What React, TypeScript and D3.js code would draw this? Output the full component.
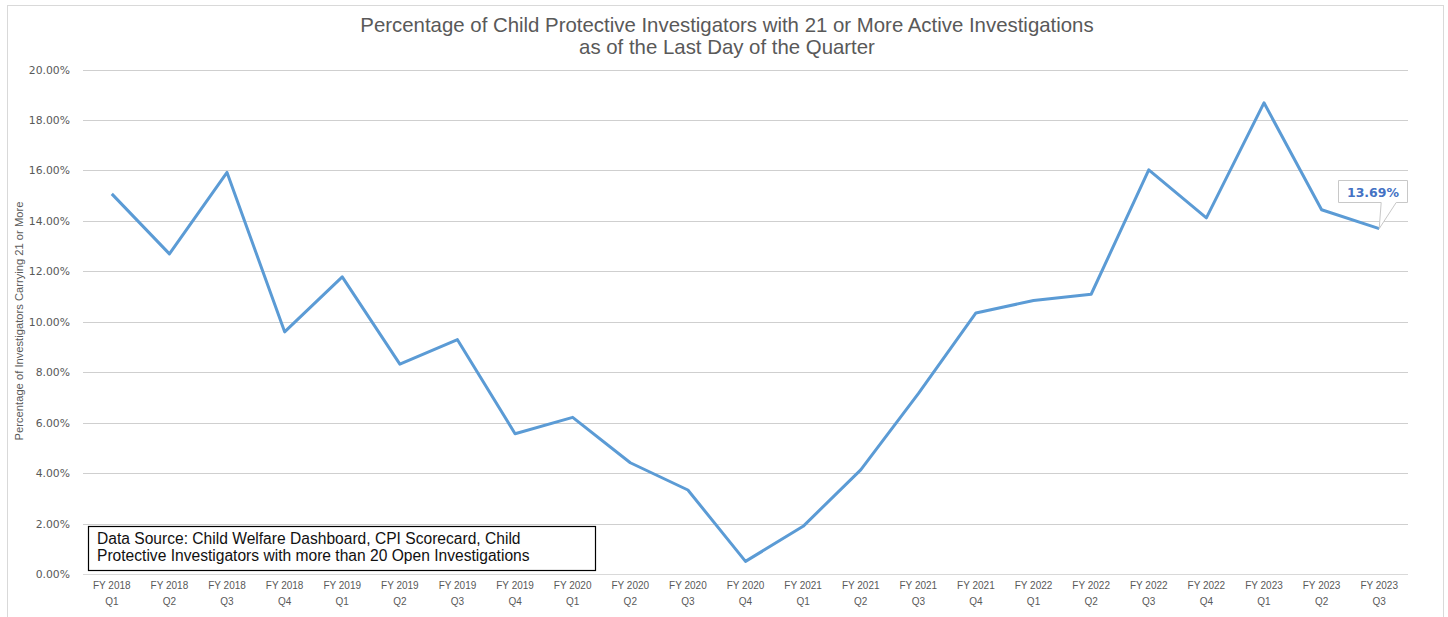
import React, { useEffect, useRef } from "react";
import { select, scaleBand, scaleLinear, line } from "d3";

const fiscalYears = [
  "FY 2018", "FY 2018", "FY 2018", "FY 2018",
  "FY 2019", "FY 2019", "FY 2019", "FY 2019",
  "FY 2020", "FY 2020", "FY 2020", "FY 2020",
  "FY 2021", "FY 2021", "FY 2021", "FY 2021",
  "FY 2022", "FY 2022", "FY 2022", "FY 2022",
  "FY 2023", "FY 2023", "FY 2023"
];
const quarters = [
  "Q1", "Q2", "Q3", "Q4", "Q1", "Q2", "Q3", "Q4",
  "Q1", "Q2", "Q3", "Q4", "Q1", "Q2", "Q3", "Q4",
  "Q1", "Q2", "Q3", "Q4", "Q1", "Q2", "Q3"
];
// percent of investigators with 21+ active investigations
const pctValues = [
  15.07, 12.69, 15.92, 9.6, 11.78, 8.32, 9.29, 5.56,
  6.21, 4.41, 3.33, 0.5, 1.89, 4.13, 7.15, 10.35,
  10.84, 11.09, 16.02, 14.12, 18.68, 14.44, 13.69
];
const yTicks = [0, 2, 4, 6, 8, 10, 12, 14, 16, 18, 20];

const titleLines = [
  "Percentage of Child  Protective Investigators with 21 or More Active Investigations",
  "as of the Last Day of the Quarter"
];
const sourceLines = [
  "Data Source: Child Welfare Dashboard, CPI Scorecard, Child",
  "Protective Investigators with more than 20 Open Investigations"
];

const W = 1448;
const H = 617;
const sans = "'Liberation Sans', Arial, sans-serif";

export default function App() {
  const svgRef = useRef<SVGSVGElement>(null);

  useEffect(() => {
    if (!svgRef.current) return;
    const svg = select(svgRef.current);
    svg.selectAll("*").remove();

    const keys = fiscalYears.map((fy, i) => fy + " " + quarters[i]);
    const x = scaleBand().domain(keys).range([83, 1408]);
    const y = scaleLinear().domain([0, 20]).range([574, 69.5]);
    const cx = (i: number) => x(keys[i])! + x.bandwidth() / 2;

    // outer frame
    svg.append("rect")
      .attr("x", 7.5).attr("y", 5.5)
      .attr("width", 1436).attr("height", 620)
      .attr("fill", "#fff")
      .attr("stroke", "#d9d9d9");

    // title
    svg.append("g")
      .selectAll("text")
      .data(titleLines)
      .join("text")
      .attr("x", 727)
      .attr("y", (d, i) => 32 + i * 22)
      .attr("text-anchor", "middle")
      .attr("font-family", sans)
      .attr("font-size", 20.4)
      .attr("fill", "#595959")
      .text((d) => d);

    // grid + y labels
    const grid = svg.append("g");
    grid.selectAll("line")
      .data(yTicks)
      .join("line")
      .attr("x1", 83).attr("x2", 1408)
      .attr("y1", (d) => Math.round(y(d)) + 0.5)
      .attr("y2", (d) => Math.round(y(d)) + 0.5)
      .attr("stroke", (d) => (d === 0 ? "#d9d9d9" : "#cfcfcf"))
      .attr("stroke-width", 1);
    grid.selectAll("text")
      .data(yTicks)
      .join("text")
      .attr("x", 70)
      .attr("y", (d) => y(d) + 4)
      .attr("text-anchor", "end")
      .attr("font-family", "'DejaVu Sans', sans-serif")
      .attr("font-size", 10.8)
      .attr("fill", "#595959")
      .text((d) => d.toFixed(2) + "%");

    // y axis title
    svg.append("text")
      .attr("transform", "translate(23,321) rotate(-90)")
      .attr("text-anchor", "middle")
      .attr("font-family", sans)
      .attr("font-size", 11.2)
      .attr("fill", "#595959")
      .text("Percentage of Investigators Carrying 21 or More");

    // x labels
    const xl = svg.append("g")
      .selectAll("text")
      .data(keys)
      .join("text")
      .attr("text-anchor", "middle")
      .attr("font-family", sans)
      .attr("font-size", 10)
      .attr("fill", "#595959");
    xl.append("tspan")
      .attr("x", (d, i) => cx(i))
      .attr("y", 589)
      .text((d, i) => fiscalYears[i]);
    xl.append("tspan")
      .attr("x", (d, i) => cx(i))
      .attr("y", 605)
      .text((d, i) => quarters[i]);

    // source box
    svg.append("rect")
      .attr("x", 88.5).attr("y", 526.5)
      .attr("width", 507).attr("height", 44)
      .attr("fill", "#fff")
      .attr("stroke", "#000")
      .attr("stroke-width", 1.2);
    svg.append("g")
      .selectAll("text")
      .data(sourceLines)
      .join("text")
      .attr("x", 97)
      .attr("y", (d, i) => 544 + i * 17)
      .attr("font-family", sans)
      .attr("font-size", 15.6)
      .attr("fill", "#111")
      .text((d) => d);

    // series line
    const path = line<number>()
      .x((d, i) => cx(i))
      .y((d) => y(d));
    svg.append("path")
      .datum(pctValues)
      .attr("d", path)
      .attr("fill", "none")
      .attr("stroke", "#5b9bd5")
      .attr("stroke-width", 3)
      .attr("stroke-linejoin", "round");

    // callout for last value
    const li = pctValues.length - 1;
    const px = cx(li);
    const py = y(pctValues[li]);
    const bx = 1338.5, by = 180.5, bw = 69, bh = 22;
    svg.append("path")
      .attr("d",
        `M${bx},${by} H${bx + bw} V${by + bh} H${px + 17} L${px},${py} L${px + 2},${by + bh} H${bx} Z`)
      .attr("fill", "#fff")
      .attr("stroke", "#c8c8c8");
    svg.append("text")
      .attr("x", bx + bw / 2)
      .attr("y", by + 16)
      .attr("text-anchor", "middle")
      .attr("font-family", "'DejaVu Sans', sans-serif")
      .attr("font-weight", "bold")
      .attr("font-size", 12.5)
      .attr("fill", "#4472c4")
      .text(pctValues[li].toFixed(2) + "%");
  }, []);

  return (
    <svg
      ref={svgRef}
      width={W}
      height={H}
      style={{ position: "absolute", left: 0, top: 0, background: "#fff" }}
    />
  );
}
